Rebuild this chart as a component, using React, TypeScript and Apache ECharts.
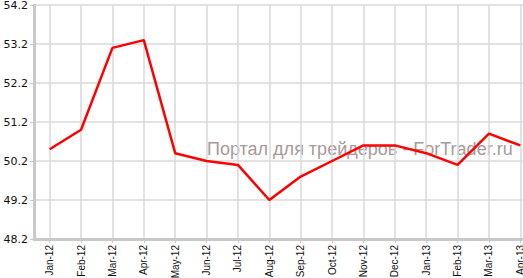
import React, { useEffect, useRef } from "react";
import * as echarts from "echarts";

const categories = ["Jan-12", "Feb-12", "Mar-12", "Apr-12", "May-12", "Jun-12", "Jul-12", "Aug-12", "Sep-12", "Oct-12", "Nov-12", "Dec-12", "Jan-13", "Feb-13", "Mar-13", "Apr-13"];
const values = [50.5, 51.0, 53.1, 53.3, 50.4, 50.2, 50.1, 49.2, 49.8, 50.2, 50.6, 50.6, 50.4, 50.1, 50.9, 50.6];
const yMin = 48.2;
const yMax = 54.2;
const yStep = 1;
const watermark = "Портал для трейдеров - ForTrader.ru";

export default function App() {
  const ref = useRef<HTMLDivElement>(null);
  useEffect(() => {
    if (!ref.current) return;
    const chart = echarts.init(ref.current, undefined, { renderer: "svg" });
    chart.setOption({
      animation: false,
      grid: { left: 34, top: 5, width: 502, height: 234, containLabel: false, outerBoundsMode: "none" },
      graphic: [
        {
          type: "text",
          left: 207,
          top: 140,
          z: 0,
          style: {
            text: watermark,
            fill: "#a89a9a",
            font: "18px 'Liberation Sans', Arial, sans-serif",
          },
        },
      ],
      xAxis: {
        type: "category",
        data: categories,
        boundaryGap: true,
        axisLine: { show: true, lineStyle: { color: "#c8c8c8", width: 3 } },
        axisTick: { show: true, alignWithLabel: true, length: 4, lineStyle: { color: "#c8c8c8", width: 1 } },
        axisLabel: {
          interval: 0,
          rotate: 90,
          margin: 6,
          color: "#111",
          fontSize: 10,
          fontFamily: "'Liberation Sans', Arial, sans-serif",
        },
        splitLine: { show: true, alignWithLabel: true, lineStyle: { color: "#d8d8d8", width: 1.5 } },
      },
      yAxis: {
        type: "value",
        min: yMin,
        max: yMax,
        interval: yStep,
        axisLine: { show: true, lineStyle: { color: "#c8c8c8", width: 3 } },
        axisTick: { show: true, length: 4, lineStyle: { color: "#c8c8c8", width: 1 } },
        axisLabel: {
          margin: 6,
          color: "#111",
          fontSize: 11,
          fontFamily: "'DejaVu Sans', Verdana, sans-serif",
          formatter: (v: number) => v.toFixed(1),
        },
        splitLine: { show: true, lineStyle: { color: "#d8d8d8", width: 1.5 } },
      },
      series: [
        {
          type: "line",
          data: values,
          showSymbol: false,
          symbol: "none",
          z: 5,
          lineStyle: { color: "#ff0000", width: 2.5 },
        },
      ],
    });
    return () => chart.dispose();
  }, []);
  return <div ref={ref} style={{ position: "absolute", left: 0, top: 0, width: 523, height: 278, background: "#fff" }} />;
}
